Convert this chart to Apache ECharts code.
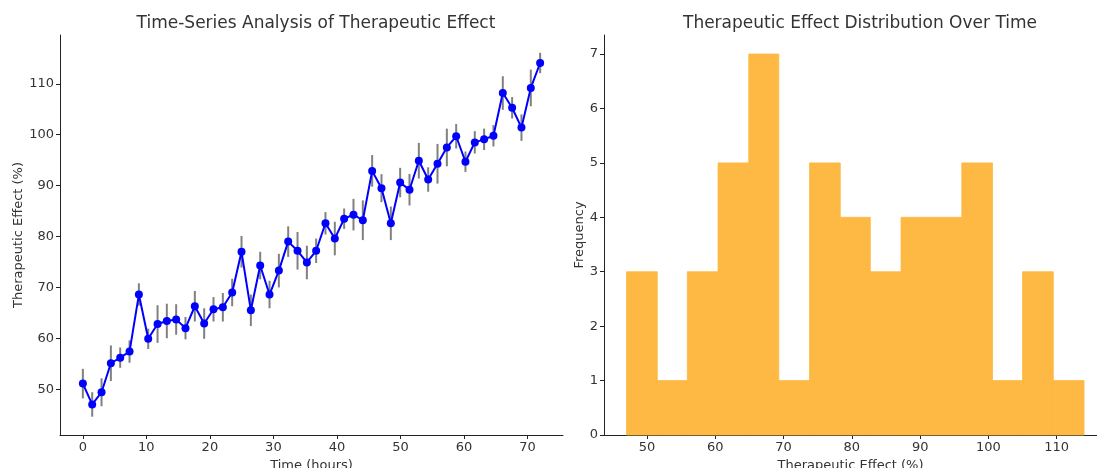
<!DOCTYPE html>
<html>
<head>
<meta charset="utf-8">
<script src="https://cdn.jsdelivr.net/npm/echarts@6/dist/echarts.min.js"></script>
<style>
  html, body { margin: 0; padding: 0; background: #fff; }
  #chart { width: 1097px; height: 468px; }
</style>
</head>
<body>
<div id="chart"></div>
<script>
// time points (hours)
const times = [0, 1.47, 2.94, 4.41, 5.88, 7.35, 8.82, 10.29, 11.76, 13.22,
  14.69, 16.16, 17.63, 19.10, 20.57, 22.04, 23.51, 24.98, 26.45, 27.92,
  29.39, 30.86, 32.33, 33.80, 35.27, 36.73, 38.20, 39.67, 41.14, 42.61,
  44.08, 45.55, 47.02, 48.49, 49.96, 51.43, 52.90, 54.37, 55.84, 57.31,
  58.78, 60.24, 61.71, 63.18, 64.65, 66.12, 67.59, 69.06, 70.53, 72];
// therapeutic effect (%)
const effect = [51.1, 47.0, 49.4, 55.1, 56.2, 57.4, 68.6, 59.9, 62.8, 63.4,
  63.7, 62.0, 66.3, 62.9, 65.7, 66.1, 69.0, 77.0, 65.5, 74.3,
  68.6, 73.3, 79.0, 77.2, 74.9, 77.2, 82.6, 79.6, 83.5, 84.3,
  83.2, 92.9, 89.5, 82.6, 90.6, 89.2, 94.9, 91.2, 94.3, 97.5,
  99.7, 94.7, 98.5, 99.1, 99.8, 108.2, 105.3, 101.4, 109.2, 114.1];
// error bar half lengths
const errors = [2.9, 2.4, 2.75, 3.5, 2.0, 2.2, 2.2, 2.0, 3.7, 3.4,
  3.0, 2.2, 3.0, 3.0, 2.4, 2.8, 2.7, 3.1, 3.1, 2.7,
  2.7, 3.3, 3.0, 3.7, 3.3, 2.4, 2.2, 3.3, 2.0, 3.1,
  3.9, 3.1, 2.75, 3.3, 2.9, 3.1, 3.5, 2.4, 3.9, 3.7,
  2.4, 2.0, 2.2, 2.1, 2.1, 3.3, 2.1, 2.6, 3.6, 2.0];
// histogram
const binEdges = [47.0, 51.5, 55.9, 60.4, 64.9, 69.3, 73.8, 78.3, 82.7,
  87.2, 91.6, 96.1, 100.6, 105.0, 109.5, 114.0];
const binCounts = [3, 1, 3, 5, 7, 1, 5, 4, 3, 4, 4, 5, 1, 3, 1];
const leftXTicks = [0, 10, 20, 30, 40, 50, 60, 70];
const leftYTicks = [50, 60, 70, 80, 90, 100, 110];
const histXTicks = [50, 60, 70, 80, 90, 100, 110];
const histYTicks = [0, 1, 2, 3, 4, 5, 6, 7];

const FONT = 'DejaVu Sans';
const TXT = '#333';

const lineData = times.map((t, i) => [t, effect[i]]);
const errData = times.map((t, i) => [t, effect[i], errors[i]]);
const histData = binCounts.map((c, i) => [binEdges[i], binEdges[i + 1], c]);

// 坐标轴公共样式
function makeAxis(ticks, extra) {
    return Object.assign({
        type: 'value',
        axisLine: { show: true, onZero: false, lineStyle: { color: '#222', width: 1 } },
        axisTick: { show: true, length: 4, lineStyle: { color: '#222' }, customValues: ticks },
        axisLabel: { color: TXT, fontFamily: FONT, fontSize: 13, margin: 6, customValues: ticks },
        splitLine: { show: false },
        nameTextStyle: { color: TXT, fontFamily: FONT, fontSize: 13 }
    }, extra)
}

const chart = echarts.init(document.getElementById('chart'));
chart.setOption({
    animation: false,
    backgroundColor: '#fff',
    title: [
        {
            text: 'Time-Series Analysis of Therapeutic Effect',
            left: 311, top: 10, textAlign: 'center',
            textStyle: { fontFamily: FONT, fontSize: 17, fontWeight: 'normal', color: TXT }
        },
        {
            text: 'Therapeutic Effect Distribution Over Time',
            left: 855, top: 10, textAlign: 'center',
            textStyle: { fontFamily: FONT, fontSize: 17, fontWeight: 'normal', color: TXT }
        }
    ],
    grid: [
        { left: 60, right: 534, top: 35, bottom: 33, containLabel: false, outerBoundsMode: 'none' },
        { left: 604, right: 0, top: 35, bottom: 33, containLabel: false, outerBoundsMode: 'none' }
    ],
    xAxis: [
        makeAxis(leftXTicks, {
            gridIndex: 0, min: -3.6, max: 75.6,
            name: 'Time (hours)', nameLocation: 'middle', nameGap: 23
        }),
        makeAxis(histXTicks, {
            gridIndex: 1, min: 43.7, max: 115.9,
            name: 'Therapeutic Effect (%)', nameLocation: 'middle', nameGap: 24
        })
    ],
    yAxis: [
        makeAxis(leftYTicks, {
            gridIndex: 0, min: 41, max: 119.6,
            name: 'Therapeutic Effect (%)', nameLocation: 'middle', nameGap: 35
        }),
        makeAxis(histYTicks, {
            gridIndex: 1, min: 0, max: 7.35,
            name: 'Frequency', nameLocation: 'middle', nameGap: 14
        })
    ],
    series: [
        {
            // error bars
            type: 'custom',
            xAxisIndex: 0, yAxisIndex: 0,
            data: errData,
            z: 1,
            renderItem: function (params, api) {
                const x = api.value(0), y = api.value(1), e = api.value(2);
                const lo = api.coord([x, y - e]);
                const hi = api.coord([x, y + e]);
                return {
                    type: 'line',
                    shape: { x1: lo[0], y1: lo[1], x2: hi[0], y2: hi[1] },
                    style: { stroke: '#808080', lineWidth: 2 }
                }
            }
        },
        {
            type: 'line',
            xAxisIndex: 0, yAxisIndex: 0,
            data: lineData,
            z: 3,
            symbol: 'circle',
            symbolSize: 8,
            lineStyle: { color: '#0000ff', width: 2 },
            itemStyle: { color: '#0000ff' }
        },
        {
            // histogram
            type: 'custom',
            xAxisIndex: 1, yAxisIndex: 1,
            data: histData,
            renderItem: function (params, api) {
                const p0 = api.coord([api.value(0), 0]);
                const p1 = api.coord([api.value(1), api.value(2)]);
                return {
                    type: 'rect',
                    shape: { x: p0[0], y: p1[1], width: p1[0] - p0[0], height: p0[1] - p1[1] },
                    style: { fill: '#fdb943', stroke: '#fdb943', lineWidth: 0.8 }
                }
            }
        }
    ]
});
</script>
</body>
</html>
